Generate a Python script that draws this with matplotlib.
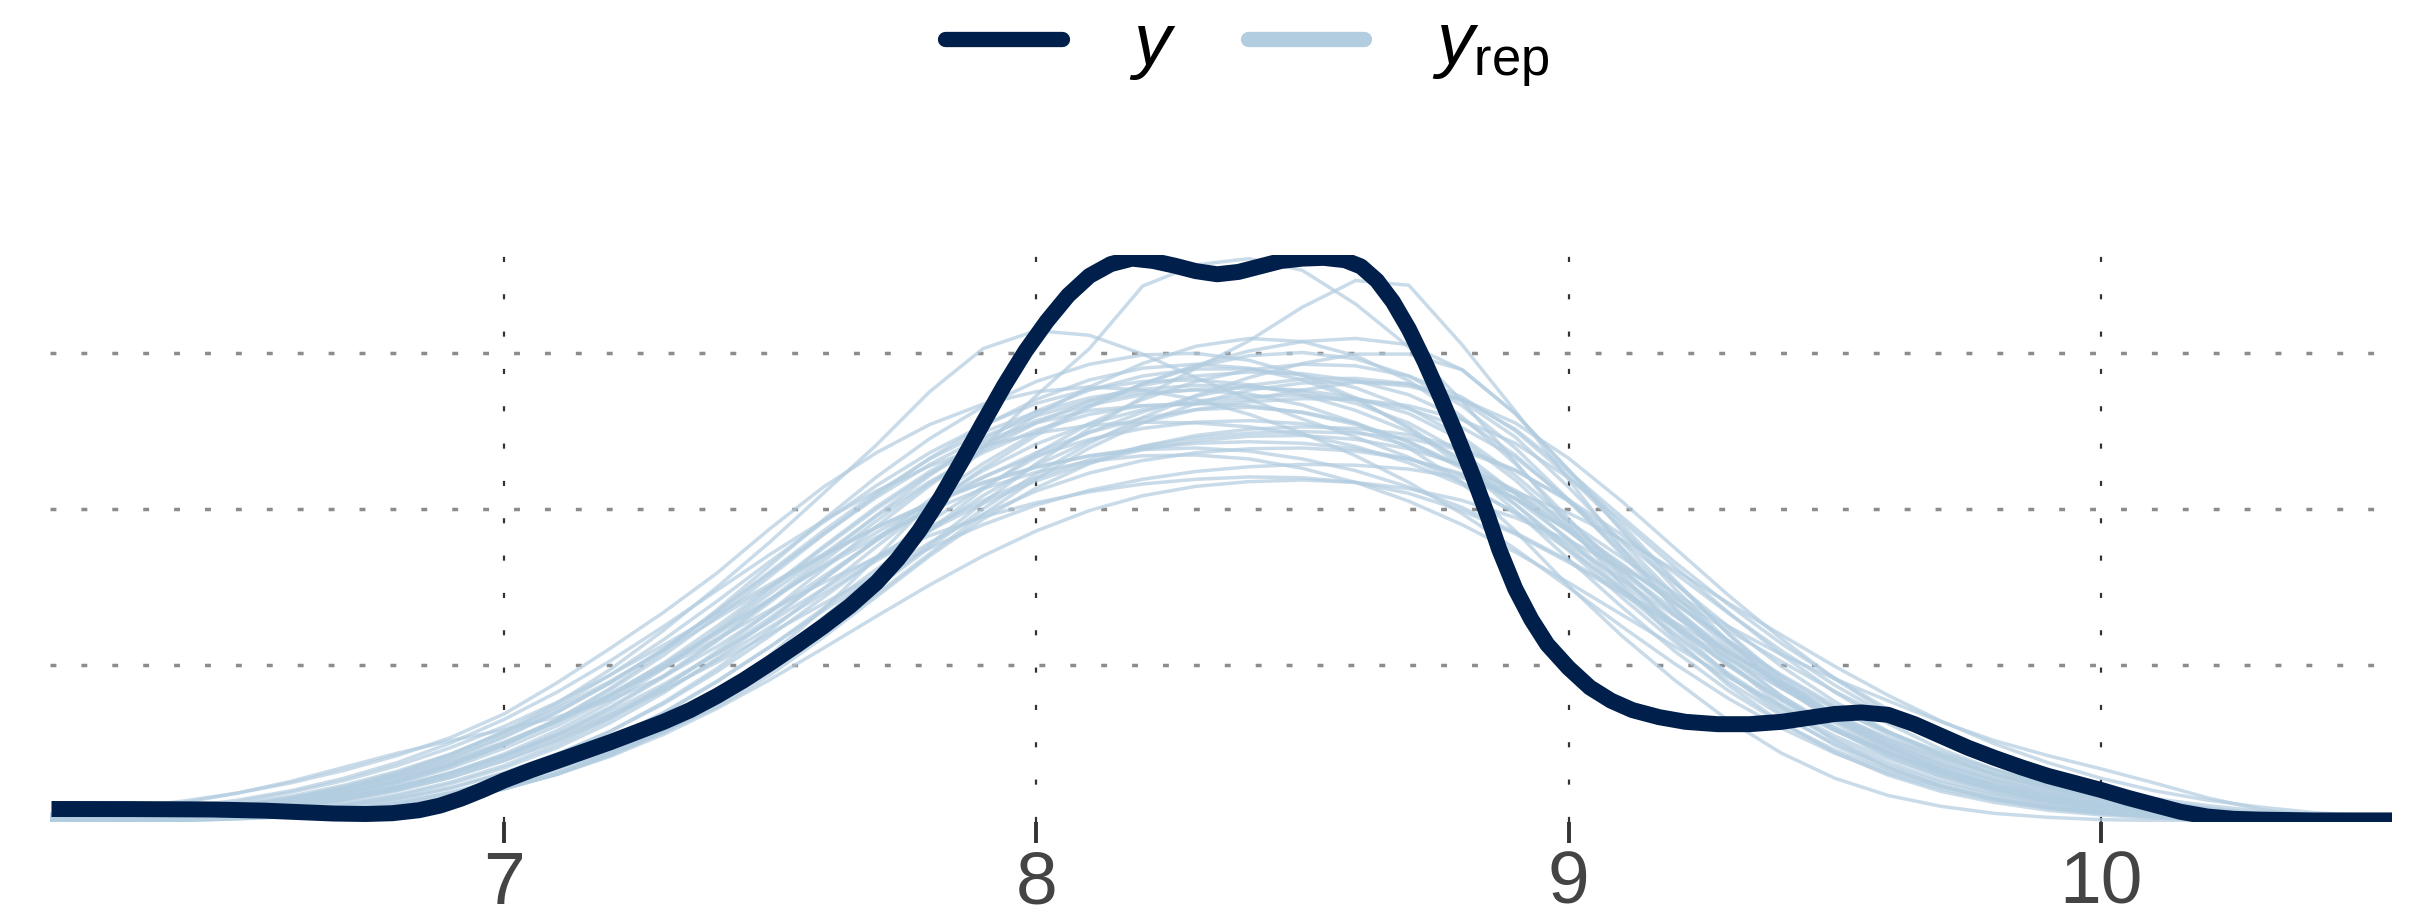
import numpy as np
import matplotlib
matplotlib.use("Agg")
import matplotlib.pyplot as plt
from matplotlib.lines import Line2D

plt.rcParams['font.family'] = ['Liberation Sans', 'DejaVu Sans']
plt.rcParams['mathtext.fontset'] = 'custom'
plt.rcParams['mathtext.it'] = 'Liberation Sans:italic'
plt.rcParams['mathtext.rm'] = 'Liberation Sans'

# observed density (y)
y_x = [6.15, 6.3, 6.45, 6.55, 6.62, 6.68, 6.74, 6.79, 6.84, 6.88, 6.92, 6.96, 7.0,
       7.05, 7.1, 7.15, 7.2, 7.25, 7.3, 7.35, 7.4, 7.45, 7.5, 7.55, 7.6, 7.65, 7.7,
       7.74, 7.78, 7.82, 7.86, 7.9, 7.94, 7.98, 8.02, 8.06, 8.1, 8.14, 8.18, 8.22,
       8.26, 8.3, 8.34, 8.38, 8.42, 8.46, 8.5, 8.54, 8.58, 8.61, 8.64, 8.67, 8.7,
       8.73, 8.76, 8.79, 8.82, 8.85, 8.87, 8.9, 8.93, 8.96, 9.0, 9.04, 9.08, 9.12,
       9.17, 9.22, 9.28, 9.34, 9.4, 9.45, 9.5, 9.55, 9.6, 9.65, 9.7, 9.75, 9.8,
       9.85, 9.9, 9.95, 10.0, 10.05, 10.1, 10.15, 10.2, 10.25, 10.3, 10.4, 10.55]
y_dens = [.0166, .0165, .016, .0145, .0125, .0108, .0102, .0112, .015, .021, .030,
          .041, .053, .066, .078, .090, .102, .115, .128, .143, .161, .181, .203,
          .226, .250, .276, .306, .336, .372, .414, .461, .51, .558, .602, .64, .673,
          .698, .713, .72, .717, .711, .704, .700, .703, .710, .717, .72, .721, .718,
          .710, .692, .665, .630, .588, .542, .494, .443, .388, .348, .298, .259,
          .227, .197, .172, .155, .143, .134, .128, .125, .125, .128, .133, .138,
          .14, .137, .125, .110, .095, .082, .070, .059, .050, .041, .031, .022,
          .013, .007, .004, .003, .002, .002]

# replicated densities (y_rep), all on the same grid
rep_x = [6.1, 6.2, 6.3, 6.4, 6.5, 6.6, 6.7, 6.8, 6.9, 7.0, 7.1, 7.2, 7.3, 7.4, 7.5,
         7.6, 7.7, 7.8, 7.9, 8.0, 8.1, 8.2, 8.3, 8.4, 8.5, 8.6, 8.7, 8.8, 8.9, 9.0,
         9.1, 9.2, 9.3, 9.4, 9.5, 9.6, 9.7, 9.8, 9.9, 10.0, 10.1, 10.2, 10.3, 10.4,
         10.5, 10.6]

rep_a = [.002,.004,.006,.010,.016,.025,.037,.053,.073,.100,.128,.162,.203,.250,.300,.352,.403,.448,.485,.513,.533,.546,.553,.555,.552,.542,.522,.488,.437,.375,.312,.254,.202,.157,.118,.088,.063,.044,.030,.020,.013,.008,.005,.003,.002,.001]
rep_b = [.008,.013,.019,.027,.037,.050,.066,.085,.108,.138,.178,.222,.268,.318,.375,.428,.472,.508,.534,.550,.556,.552,.540,.521,.497,.468,.434,.394,.349,.300,.250,.202,.158,.120,.088,.062,.042,.028,.018,.011,.007,.004,.002,.001,.001,.000]
rep_c = [.003,.005,.008,.013,.020,.030,.044,.062,.086,.116,.152,.195,.245,.300,.358,.420,.482,.550,.605,.628,.622,.598,.568,.540,.515,.492,.466,.434,.394,.348,.298,.248,.200,.157,.120,.089,.064,.045,.031,.021,.014,.009,.005,.003,.002,.001]
rep_d = [.000,.001,.001,.002,.004,.007,.011,.018,.028,.042,.061,.087,.120,.162,.213,.272,.338,.408,.478,.545,.605,.685,.712,.720,.705,.662,.607,.538,.460,.380,.303,.234,.175,.127,.089,.060,.039,.025,.015,.009,.005,.003,.002,.001,.000,.000]
rep_e = [.001,.001,.002,.003,.005,.008,.013,.020,.030,.044,.062,.086,.116,.153,.197,.247,.300,.355,.408,.458,.503,.543,.580,.615,.658,.692,.686,.610,.525,.438,.350,.272,.204,.148,.104,.070,.046,.029,.018,.011,.006,.003,.002,.001,.000,.000]
rep_f = [.004,.006,.009,.014,.021,.030,.042,.058,.078,.102,.130,.162,.197,.234,.271,.306,.338,.366,.390,.408,.422,.432,.438,.441,.440,.434,.420,.398,.368,.332,.292,.250,.209,.171,.137,.107,.082,.061,.045,.032,.022,.015,.010,.006,.004,.002]
rep_g = [.001,.001,.002,.003,.005,.009,.015,.024,.037,.055,.078,.106,.140,.180,.224,.270,.315,.357,.393,.423,.446,.462,.472,.477,.478,.474,.464,.445,.414,.372,.322,.270,.220,.175,.136,.103,.076,.055,.039,.027,.018,.012,.007,.004,.002,.001]
rep_h = [.002,.003,.005,.008,.012,.019,.028,.041,.057,.078,.103,.133,.168,.207,.249,.292,.334,.373,.407,.436,.459,.476,.487,.493,.494,.489,.477,.456,.424,.384,.338,.292,.250,.214,.183,.155,.128,.104,.085,.068,.050,.031,.016,.008,.004,.002]
rep_i = [.001,.002,.003,.005,.008,.013,.020,.030,.044,.063,.087,.116,.151,.192,.238,.287,.336,.384,.428,.466,.498,.524,.544,.558,.566,.567,.560,.540,.502,.448,.390,.332,.278,.228,.184,.144,.110,.081,.058,.040,.026,.016,.010,.006,.003,.002]
rep_j = [.006,.010,.016,.025,.037,.052,.070,.088,.104,.118,.134,.156,.186,.224,.268,.314,.360,.402,.440,.472,.498,.516,.527,.530,.524,.510,.486,.452,.406,.352,.294,.238,.187,.143,.106,.076,.053,.036,.024,.015,.009,.005,.003,.002,.001,.000]
rep_k = [.001,.002,.003,.005,.009,.014,.022,.033,.049,.069,.095,.127,.165,.209,.258,.310,.362,.412,.458,.498,.532,.560,.582,.596,.600,.592,.570,.532,.478,.412,.342,.274,.213,.161,.118,.084,.058,.039,.026,.017,.011,.007,.004,.002,.001,.001]
rep_l = [.003,.005,.008,.013,.020,.029,.042,.059,.081,.108,.140,.178,.221,.268,.318,.368,.415,.457,.492,.519,.538,.549,.552,.547,.533,.510,.478,.434,.372,.302,.238,.181,.130,.088,.056,.034,.020,.011,.006,.003,.002,.001,.000,.000,.000,.000]
rep_m = [.002,.003,.005,.008,.013,.020,.030,.044,.062,.085,.113,.147,.187,.233,.284,.338,.392,.443,.488,.525,.552,.570,.579,.579,.571,.555,.529,.492,.443,.385,.324,.264,.209,.161,.121,.089,.063,.044,.030,.020,.013,.008,.005,.003,.002,.001]
rep_n = [.004,.007,.011,.017,.026,.038,.053,.072,.095,.122,.153,.188,.226,.265,.304,.342,.377,.408,.434,.454,.468,.476,.478,.474,.464,.449,.428,.402,.370,.334,.295,.255,.216,.179,.145,.115,.089,.067,.049,.035,.024,.016,.010,.006,.004,.002]
rep_o = [.001,.001,.002,.004,.006,.010,.016,.025,.038,.055,.077,.105,.139,.179,.224,.273,.323,.372,.417,.456,.487,.511,.527,.537,.541,.540,.532,.514,.484,.440,.385,.326,.268,.214,.166,.126,.093,.067,.047,.032,.021,.013,.008,.005,.003,.002]
rep_p = [.002,.004,.006,.010,.016,.024,.036,.052,.073,.099,.131,.169,.213,.262,.314,.367,.418,.465,.506,.540,.565,.580,.585,.580,.565,.540,.505,.460,.406,.347,.287,.230,.179,.136,.100,.072,.050,.034,.022,.014,.009,.005,.003,.002,.001,.000]
rep_q = [.001,.001,.002,.003,.005,.008,.013,.021,.033,.050,.069,.090,.115,.147,.188,.236,.288,.340,.387,.427,.458,.480,.494,.502,.505,.503,.495,.478,.450,.410,.360,.305,.250,.199,.154,.116,.085,.061,.043,.029,.019,.012,.007,.004,.002,.001]
rep_r = [.003,.005,.007,.011,.017,.026,.038,.054,.074,.099,.128,.161,.199,.240,.284,.328,.370,.408,.441,.468,.489,.503,.511,.513,.509,.499,.481,.455,.420,.378,.330,.280,.232,.188,.149,.115,.087,.065,.047,.033,.022,.014,.009,.005,.003,.002]
rep_s = [.001,.002,.003,.005,.008,.012,.019,.029,.043,.062,.086,.116,.153,.196,.245,.298,.352,.404,.452,.494,.530,.560,.584,.602,.614,.618,.610,.578,.522,.450,.372,.298,.231,.174,.127,.090,.062,.041,.027,.017,.010,.006,.004,.002,.001,.001]
rep_t = [.003,.005,.008,.012,.019,.028,.040,.056,.076,.101,.130,.164,.202,.243,.285,.326,.364,.398,.426,.447,.461,.468,.469,.464,.452,.434,.410,.380,.345,.306,.265,.224,.185,.149,.117,.089,.066,.048,.034,.023,.015,.010,.006,.004,.002,.001]
rep_u = [.003,.005,.007,.012,.019,.029,.042,.060,.082,.110,.141,.178,.221,.269,.320,.372,.421,.464,.498,.524,.542,.553,.558,.557,.550,.535,.510,.472,.420,.360,.298,.241,.190,.146,.110,.081,.058,.041,.028,.019,.012,.008,.005,.003,.002,.001]
rep_v = [.001,.002,.004,.007,.011,.018,.027,.040,.057,.079,.105,.136,.173,.215,.261,.310,.360,.407,.449,.483,.509,.527,.538,.544,.545,.540,.528,.504,.466,.412,.350,.288,.230,.179,.136,.101,.073,.052,.036,.024,.016,.010,.006,.004,.002,.001]
rep_w = [.002,.003,.005,.009,.014,.022,.034,.050,.071,.098,.131,.171,.218,.271,.328,.386,.441,.490,.531,.563,.585,.597,.599,.590,.571,.542,.503,.455,.398,.336,.275,.218,.168,.126,.092,.065,.045,.030,.020,.013,.008,.005,.003,.002,.001,.000]
rep_x_ = [.002,.004,.006,.009,.014,.021,.031,.045,.063,.085,.111,.141,.176,.215,.256,.298,.339,.377,.411,.440,.463,.480,.491,.497,.499,.497,.490,.475,.449,.412,.367,.318,.267,.219,.175,.136,.103,.076,.055,.039,.027,.018,.011,.007,.004,.002]
rep_y2 = [.002,.003,.005,.008,.012,.019,.029,.042,.060,.083,.111,.145,.185,.231,.281,.333,.385,.433,.475,.510,.538,.558,.570,.575,.573,.564,.546,.515,.469,.410,.345,.282,.224,.173,.130,.095,.068,.047,.032,.021,.014,.009,.005,.003,.002,.001]
rep_z2 = [.004,.006,.010,.015,.023,.033,.047,.065,.087,.114,.145,.180,.219,.260,.301,.340,.376,.407,.433,.453,.468,.478,.484,.486,.484,.477,.464,.443,.413,.374,.328,.279,.231,.186,.146,.112,.084,.061,.044,.031,.021,.014,.009,.006,.004,.002]
rep_aa = [.001,.002,.003,.006,.009,.015,.023,.035,.051,.072,.099,.132,.172,.218,.269,.323,.378,.430,.478,.520,.556,.586,.608,.618,.614,.596,.564,.518,.458,.388,.316,.248,.188,.138,.098,.068,.046,.030,.019,.012,.007,.004,.002,.001,.001,.000]
rep_ab = [.005,.008,.012,.019,.028,.040,.056,.076,.101,.131,.166,.206,.250,.296,.342,.385,.423,.455,.480,.497,.507,.511,.510,.505,.495,.480,.459,.431,.396,.355,.310,.263,.218,.176,.138,.106,.079,.058,.041,.029,.020,.013,.008,.005,.003,.002]
rep_ac = [.001,.001,.002,.003,.005,.008,.012,.019,.029,.043,.061,.085,.115,.151,.193,.240,.291,.343,.393,.439,.478,.510,.535,.552,.561,.563,.557,.540,.510,.465,.410,.350,.290,.234,.183,.140,.104,.076,.054,.038,.026,.017,.011,.007,.004,.002]
rep_ad = [.002,.004,.006,.010,.015,.023,.034,.049,.069,.094,.123,.158,.198,.243,.292,.342,.391,.435,.472,.501,.521,.532,.535,.532,.523,.508,.486,.455,.413,.362,.306,.251,.200,.155,.117,.086,.062,.043,.029,.019,.012,.008,.005,.003,.002,.001]
rep_ae = [.002,.003,.005,.008,.013,.020,.030,.044,.063,.087,.117,.153,.196,.245,.297,.350,.400,.445,.482,.510,.526,.532,.534,.540,.552,.562,.560,.538,.492,.428,.358,.290,.229,.176,.132,.097,.069,.048,.033,.022,.014,.009,.005,.003,.002,.001]
rep_af = [.003,.004,.007,.010,.015,.022,.032,.045,.062,.083,.108,.137,.169,.204,.241,.279,.316,.350,.380,.405,.424,.438,.448,.454,.457,.456,.451,.440,.422,.395,.361,.322,.280,.239,.199,.162,.129,.100,.076,.056,.040,.028,.019,.012,.008,.005]
rep_ag = [.000,.001,.001,.002,.004,.007,.011,.018,.028,.042,.062,.088,.121,.161,.208,.261,.317,.373,.425,.471,.509,.540,.563,.578,.585,.583,.570,.543,.500,.442,.375,.306,.241,.184,.136,.097,.067,.045,.030,.019,.012,.007,.004,.002,.001,.001]
rep_ah = [.004,.006,.009,.014,.021,.031,.045,.063,.086,.114,.148,.188,.233,.282,.333,.383,.430,.472,.507,.535,.553,.563,.565,.559,.546,.526,.499,.464,.421,.372,.319,.266,.216,.171,.132,.100,.073,.053,.037,.025,.017,.011,.007,.004,.002,.001]
rep_ai = [.001,.001,.002,.003,.005,.008,.012,.019,.029,.043,.061,.084,.112,.145,.182,.222,.263,.303,.340,.372,.398,.417,.429,.435,.437,.434,.426,.411,.389,.360,.325,.286,.245,.205,.167,.133,.103,.078,.058,.042,.030,.021,.014,.009,.006,.004]
rep_aj = [.001,.001,.002,.003,.005,.008,.013,.020,.031,.046,.065,.090,.121,.158,.201,.249,.300,.351,.400,.445,.484,.517,.545,.568,.586,.598,.598,.578,.522,.450,.380,.309,.240,.180,.131,.093,.064,.043,.028,.018,.011,.007,.004,.002,.001,.001]

rep_curves = [rep_a, rep_b, rep_c, rep_d, rep_e, rep_f, rep_g, rep_h, rep_i, rep_j,
              rep_k, rep_l, rep_m, rep_n, rep_o, rep_p, rep_q, rep_r, rep_s, rep_t,
              rep_u, rep_v, rep_w, rep_x_, rep_y2, rep_z2, rep_aa, rep_ab, rep_ac,
              rep_ad, rep_ae, rep_af, rep_ag, rep_ah, rep_ai, rep_aj]

x_ticks = [7, 8, 9, 10]
x_labels = ['7', '8', '9', '10']
y_grid = [0.2, 0.4, 0.6]

dark = '#011f4b'
light = '#b3cde0'

fig = plt.figure(figsize=(24.22, 9.24), dpi=100)
ax = fig.add_axes([0.0206, 0.1104, 0.9670, 0.6136])

for dens in rep_curves:
    ax.plot(rep_x, dens, color=light, lw=2.5, alpha=0.7, zorder=2)
ax.plot(y_x, y_dens, color=dark, lw=11.5, solid_capstyle='butt',
        solid_joinstyle='round', zorder=3)

ax.set_xlim(6.147, 10.547)
ax.set_ylim(0, 0.7246)
ax.set_xticks(x_ticks)
ax.set_xticklabels(x_labels)
ax.set_yticks(y_grid)
ax.set_yticklabels([])
ax.tick_params(axis='y', length=0)
ax.tick_params(axis='x', length=15, width=2.8, color='#333333', pad=5,
               labelsize=54, labelcolor='#444444')
for s in ax.spines.values():
    s.set_visible(False)

ax.set_axisbelow(True)
ax.xaxis.grid(True, color='#333333', lw=1.6, ls=(0, (2.3, 14.5)))
ax.yaxis.grid(True, color='#8c8c8c', lw=2.5, ls=(0, (1.7, 7.2)))

handles = [Line2D([], [], color=dark, lw=11, solid_capstyle='round'),
           Line2D([], [], color=light, lw=11, solid_capstyle='round')]
fig.legend(handles, ['$y$', '$y_{\\mathrm{rep}}$'], loc='center',
           bbox_to_anchor=(0.515, 0.945), ncol=2, frameon=False, fontsize=54,
           handlelength=1.55, handletextpad=0.9, columnspacing=0.95)

fig.savefig('out.png', dpi=100, facecolor='white')
